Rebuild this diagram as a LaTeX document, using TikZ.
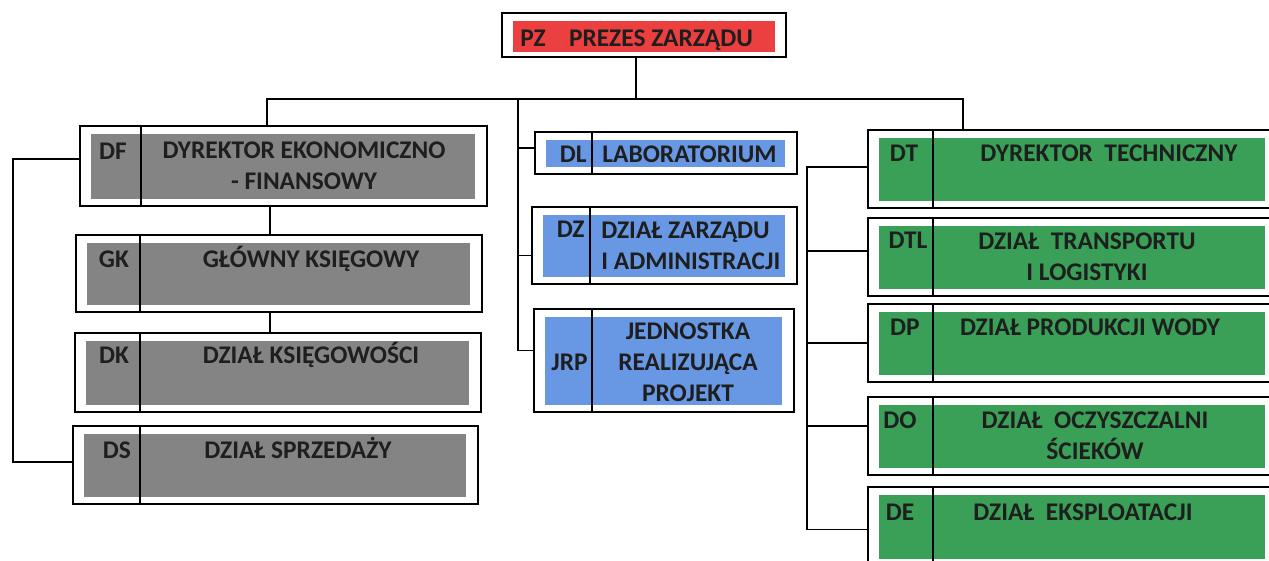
\documentclass[tikz,border=0pt]{standalone}
\usepackage{fontspec}
\setmainfont{Carlito}
\usepackage{tikz}
\usetikzlibrary{fit, calc}
\definecolor{pzRed}{RGB}{236,64,64}
\definecolor{dfGray}{RGB}{132,132,132}
\definecolor{dlBlue}{RGB}{104,152,228}
\definecolor{dtGreen}{RGB}{58,160,88}
\definecolor{inkDark}{RGB}{30,30,30}
\tikzset{frame/.style={draw, line width=1pt, inner sep=0pt, fill=white},
	link/.style={line width=0.8pt},
	title/.style={font=\bfseries\fontsize{12.7}{15.5}\selectfont, text=inkDark, inner sep=0pt, align=center},
	code/.style={title, text height=8.2pt, text depth=0pt}}
% box: name, left, top, right, bottom, divider x, fill colour
\newcommand{\orgbox}[7]{%
	\node[frame, fit={(#2,#3) (#4,#5)}] (#1) {};
	\fill[#7] (#2+11,#3+8) rectangle (#4-12,#5-7);
	\draw[line width=0.8pt] (#6,#3) -- (#6,#5);
}

\begin{document}
\begin{tikzpicture}[x=0.5pt, y=-0.5pt, line cap=round]
	\useasboundingbox (0,0) rectangle (1269,561);
	\clip (0,0) rectangle (1269,561);
	% top
	\node[frame, fit={(502,13) (786,57)}] (pz) {};
	\fill[pzRed] (513,21) rectangle (775,52);
	\node[code] (pz-code) at (533,38) {PZ};
	\node[code] (pz-title) at (661,38) {PREZES ZARZĄDU};

	% left column
	\orgbox{df}{80}{126}{487}{206}{141}{dfGray}
	\orgbox{gk}{76}{235}{482}{312}{140}{dfGray}
	\orgbox{dk}{75}{333}{481}{412}{140}{dfGray}
	\orgbox{ds}{73}{426}{478}{504}{140}{dfGray}
	\node[code] (df-code) at (113,151) {DF};
	\node[title] (df-title) at (304,166) {DYREKTOR EKONOMICZNO\\- FINANSOWY};
	\node[code] (gk-code) at (114,259) {GK};
	\node[code] (gk-title) at (311,259) {GŁÓWNY KSIĘGOWY};
	\node[code] (dk-code) at (114,355) {DK};
	\node[code] (dk-title) at (311,355) {DZIAŁ KSIĘGOWOŚCI};
	\node[code] (ds-code) at (117,450) {DS};
	\node[code] (ds-title) at (298,450) {DZIAŁ SPRZEDAŻY};

	% middle column
	\orgbox{dl}{535}{132}{797}{174}{592}{dlBlue}
	\orgbox{dz}{532}{207}{797}{284}{590}{dlBlue}
	\orgbox{jrp}{534}{309}{794}{412}{592}{dlBlue}
	\node[code, anchor=east] (dl-code) at (587,154) {DL};
	\node[code, anchor=west] (dl-title) at (602,154) {LABORATORIUM};
	\node[code, anchor=east] (dz-code) at (585,229) {DZ};
	\node[title, anchor=west, align=left] (dz-title) at (601,246) {DZIAŁ ZARZĄDU\\I ADMINISTRACJI};
	\node[code, anchor=east] (jrp-code) at (588,362) {JRP};
	\node[title] (jrp-title) at (688,362) {JEDNOSTKA\\REALIZUJĄCA\\PROJEKT};

	% right column
	\orgbox{dt}{868}{130}{1277}{208}{933}{dtGreen}
	\orgbox{dtl}{868}{218}{1277}{296}{933}{dtGreen}
	\orgbox{dp}{868}{304}{1277}{382}{933}{dtGreen}
	\orgbox{doc}{868}{397}{1277}{475}{933}{dtGreen}
	\orgbox{de}{868}{487}{1277}{566}{933}{dtGreen}
	\node[code] (dt-code) at (904,153) {DT};
	\node[code] (dt-title) at (1109,153) {DYREKTOR\ \ TECHNICZNY};
	\node[code] (dtl-code) at (908,240) {DTL};
	\node[title] (dtl-title) at (1087,257) {DZIAŁ\ \ TRANSPORTU\\I LOGISTYKI};
	\node[code] (dp-code) at (905,327) {DP};
	\node[code] (dp-title) at (1090,327) {DZIAŁ PRODUKCJI WODY};
	\node[code] (doc-code) at (900,420) {DO};
	\node[title] (doc-title) at (1095,436) {DZIAŁ\ \ OCZYSZCZALNI\\ŚCIEKÓW};
	\node[code] (de-code) at (900,512) {DE};
	\node[code] (de-title) at (1083,512) {DZIAŁ\ \ EKSPLOATACJI};

	% connectors
	\coordinate (busL) at (267,99);
	\coordinate (busM) at (518,99);
	\coordinate (busR) at (963,99);
	\draw[link] ($(pz.south)+(-8,0)$) -- ($(pz.south |- busM)+(-8,0)$);
	\draw[link] (df.north -| busL) -- (busL) -- (busR) -- (dt.north -| busR);
	\draw[link] (busM) |- ($(dl.west)+(0,-5)$);
	\draw[link] (busM) |- ($(dz.west)+(0,10)$);
	\draw[link] (busM) |- ($(jrp.west)+(0,-10)$);

	\coordinate (fLeft) at (13,300);
	\coordinate (fCol) at (270,0);
	\draw[link] ($(df.west)+(0,-7)$) -| (fLeft) |- ($(ds.west)+(0,-3)$);
	\draw[link] (df.south -| fCol) -- (gk.north -| fCol);
	\draw[link] (gk.south -| fCol) -- (dk.north -| fCol);

	\coordinate (tLeft) at (807,300);
	\draw[link] ($(dt.west)+(0,-2)$) -| (tLeft) |- ($(de.west)+(0,3)$);
	\foreach \n/\dy in {dtl/-6, dp/0, doc/-10}
		\draw[link] (tLeft) |- ($(\n.west)+(0,\dy)$);
\end{tikzpicture}
\end{document}
